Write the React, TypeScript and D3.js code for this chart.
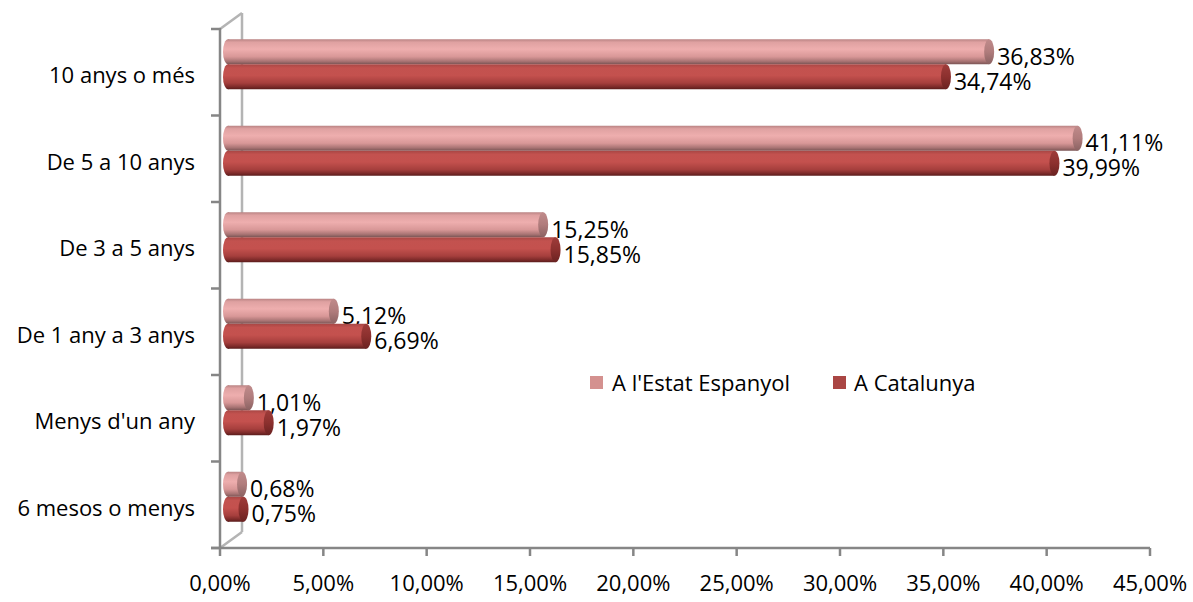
import * as React from "react";
import { scaleBand, scaleLinear } from "d3";

const categories = [
  "10 anys o més",
  "De 5 a 10 anys",
  "De 3 a 5 anys",
  "De 1 any a 3 anys",
  "Menys d'un any",
  "6 mesos o menys",
];
const estat = [36.83, 41.11, 15.25, 5.12, 1.01, 0.68];
const catalunya = [34.74, 39.99, 15.85, 6.69, 1.97, 0.75];
const seriesNames = ["A l'Estat Espanyol", "A Catalunya"];
const xTicks = [0, 5, 10, 15, 20, 25, 30, 35, 40, 45];

const fmt = (v: number) => v.toFixed(2).replace(".", ",") + "%";

export default function App() {
  const W = 1193;
  const H = 602;
  const font = "'Open Sans', sans-serif";

  const xScale = scaleLinear().domain([0, 45]).range([220, 1150]);
  const yScale = scaleBand().domain(categories).range([29, 548]);

  // 3D depth of the back wall and offset of the bars
  const depthX = 22;
  const depthY = -16;
  const barDx = 8;
  const barDy = -8;
  const barH = 25;
  const capRx = 5;

  const bar = (v: number, i: number, s: number) => {
    const cy = (yScale(categories[i]) as number) + yScale.bandwidth() / 2 + barDy;
    const top = s === 0 ? cy - barH : cy;
    const x0 = xScale(0) + barDx;
    const x1 = xScale(v) + barDx;
    const grad = s === 0 ? "url(#gPink)" : "url(#gDark)";
    const cap = s === 0 ? "url(#cPink)" : "url(#cDark)";
    const mid = top + barH / 2;
    return (
      <g key={`${s}-${i}`}>
        <ellipse cx={x0} cy={mid} rx={capRx} ry={barH / 2} fill={grad} />
        <rect x={x0} y={top} width={Math.max(0, x1 - x0)} height={barH} fill={grad} />
        <ellipse cx={x1} cy={mid} rx={capRx} ry={barH / 2} fill={cap} />
        <text
          x={x1 + capRx + 3}
          y={mid + 13}
          fontSize={23}
          fontFamily={font}
          fill="#000"
        >
          {fmt(v)}
        </text>
      </g>
    );
  };

  const boundaries = [...categories.map((c) => yScale(c) as number), yScale.range()[1]];

  return (
    <svg width={W} height={H} style={{ position: "absolute", left: 0, top: 0 }}>
      <defs>
        <linearGradient id="gPink" x1="0" y1="0" x2="0" y2="1">
          <stop offset="0" stopColor="#b98383" />
          <stop offset="0.12" stopColor="#dfa1a1" />
          <stop offset="0.4" stopColor="#eeaeae" />
          <stop offset="0.7" stopColor="#d89797" />
          <stop offset="0.88" stopColor="#a97474" />
          <stop offset="1" stopColor="#7a5454" />
        </linearGradient>
        <linearGradient id="gDark" x1="0" y1="0" x2="0" y2="1">
          <stop offset="0" stopColor="#a84644" />
          <stop offset="0.15" stopColor="#c3524f" />
          <stop offset="0.45" stopColor="#c4514e" />
          <stop offset="0.75" stopColor="#a63f3d" />
          <stop offset="0.9" stopColor="#7e2b2a" />
          <stop offset="1" stopColor="#5a1c1b" />
        </linearGradient>
        <linearGradient id="cPink" x1="0" y1="0" x2="0" y2="1">
          <stop offset="0" stopColor="#c08b8b" />
          <stop offset="0.5" stopColor="#b07c7c" />
          <stop offset="1" stopColor="#8a6262" />
        </linearGradient>
        <linearGradient id="cDark" x1="0" y1="0" x2="0" y2="1">
          <stop offset="0" stopColor="#9e3c3a" />
          <stop offset="0.5" stopColor="#8c302e" />
          <stop offset="1" stopColor="#6a2221" />
        </linearGradient>
      </defs>

      {/* back wall */}
      <g stroke="#b4b4b4" strokeWidth={2.5} fill="none">
        <line x1={xScale(0) + depthX} y1={29 + depthY} x2={xScale(0) + depthX} y2={548 + depthY} />
        <line x1={xScale(0)} y1={29} x2={xScale(0) + depthX} y2={29 + depthY} />
        <line x1={xScale(0)} y1={548} x2={xScale(0) + depthX} y2={548 + depthY} />
      </g>

      {/* front axes */}
      <g stroke="#868686" strokeWidth={2.5}>
        <line x1={xScale(0)} y1={28} x2={xScale(0)} y2={549} />
        <line x1={xScale(0) - 9} y1={548} x2={xScale(45)} y2={548} />
        {boundaries.map((b, i) => (
          <line key={i} x1={xScale(0) - 9} y1={b} x2={xScale(0)} y2={b} />
        ))}
        {xTicks.map((t) => (
          <line key={t} x1={xScale(t)} y1={548} x2={xScale(t)} y2={556} />
        ))}
      </g>

      {/* bars */}
      {estat.map((v, i) => bar(v, i, 0))}
      {catalunya.map((v, i) => bar(v, i, 1))}

      {/* category labels */}
      {categories.map((c) => (
        <text
          key={c}
          x={195}
          y={(yScale(c) as number) + yScale.bandwidth() / 2 + 11}
          textAnchor="end"
          fontSize={22}
          fontFamily={font}
          fill="#000"
        >
          {c}
        </text>
      ))}

      {/* x tick labels */}
      {xTicks.map((t) => (
        <text
          key={t}
          x={xScale(t)}
          y={591}
          textAnchor="middle"
          fontSize={22}
          fontFamily={font}
          fill="#000"
        >
          {fmt(t)}
        </text>
      ))}

      {/* legend */}
      <g fontSize={22} fontFamily={font} fill="#000">
        <rect x={590} y={376} width={13} height={13} fill="#d4918f" />
        <text x={612} y={391}>{seriesNames[0]}</text>
        <rect x={833} y={376} width={13} height={13} fill="#aa4644" />
        <text x={854} y={391}>{seriesNames[1]}</text>
      </g>
    </svg>
  );
}
